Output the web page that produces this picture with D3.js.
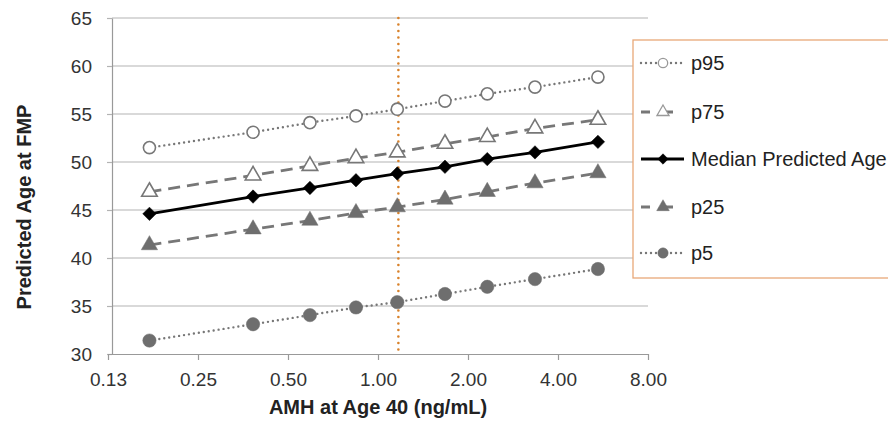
<!DOCTYPE html>
<html>
 <head>
   <meta charset="utf-8">
   <title>Predicted Age at FMP</title>
   <script src="https://cdn.jsdelivr.net/npm/d3@7/dist/d3.min.js"></script>
   <style>
     body { margin:0; background:#fff; }
     svg { font-family: "Liberation Sans", Arial, sans-serif; }
   </style>
 </head>
 <body>
  <script>
    // AMH at age 40 (ng/mL) for each point
    var amh = [0.172, 0.382, 0.592, 0.844, 1.16, 1.675, 2.32, 3.35, 5.44];
    var p95 = [51.5, 53.1, 54.1, 54.8, 55.5, 56.35, 57.1, 57.8, 58.85];
    var p75 = [46.9, 48.6, 49.6, 50.4, 51.0, 51.9, 52.6, 53.5, 54.4];
    var median = [44.6, 46.4, 47.3, 48.1, 48.8, 49.5, 50.3, 51.0, 52.1];
    var p25 = [41.35, 43.0, 43.9, 44.7, 45.3, 46.1, 46.9, 47.8, 48.85];
    var p5 = [31.4, 33.1, 34.05, 34.85, 35.4, 36.25, 37.0, 37.8, 38.85];
    var xTicks = [0.125, 0.25, 0.5, 1, 2, 4, 8];
    var xTickLabels = ["0.13", "0.25", "0.50", "1.00", "2.00", "4.00", "8.00"];
    var yTicks = [30, 35, 40, 45, 50, 55, 60, 65];
    var refAmh = 1.17;

    var width = 888, height = 428;
    var plotL = 108, plotR = 648, plotT = 18, plotB = 354;

    var x = d3.scaleLog().base(2).domain([0.125, 8]).range([plotL, plotR]);
    var y = d3.scaleLinear().domain([30, 65]).range([plotB, plotT]);

    var svg = d3.select("body").append("svg")
                .attr("width", width)
                .attr("height", height);

    // horizontal gridlines
    svg.append("g").selectAll("line")
       .data(yTicks.slice(1))
       .enter().append("line")
       .attr("x1", plotL + 4).attr("x2", plotR)
       .attr("y1", function(d) { return y(d); })
       .attr("y2", function(d) { return y(d); })
       .attr("stroke", "#b3b3b3").attr("stroke-width", 1.2);

    // y axis
    var yAxis = svg.append("g")
       .attr("transform", "translate(" + (plotL + 4) + ",0)")
       .call(d3.axisLeft(y).tickValues(yTicks).tickSize(5).tickSizeOuter(0).tickPadding(15));
    yAxis.select(".domain").attr("stroke", "#999").attr("stroke-width", 1.2);
    yAxis.selectAll(".tick line").attr("stroke", "#b3b3b3").attr("stroke-width", 1.2);
    yAxis.selectAll("text").attr("font-size", 19).attr("fill", "#333");

    // x axis
    var xAxis = svg.append("g")
       .attr("transform", "translate(0," + plotB + ")")
       .call(d3.axisBottom(x).tickValues(xTicks)
             .tickFormat(function(d, i) { return xTickLabels[i]; })
             .tickSize(6).tickSizeOuter(0).tickPadding(13));
    xAxis.select(".domain").attr("stroke", "#999").attr("stroke-width", 1.2);
    xAxis.selectAll(".tick line").attr("stroke", "#999").attr("stroke-width", 1.2);
    xAxis.selectAll("text").attr("font-size", 19).attr("fill", "#333");

    // axis titles
    svg.append("text")
       .attr("x", 378).attr("y", 414)
       .attr("text-anchor", "middle")
       .attr("font-size", 20).attr("font-weight", "bold").attr("fill", "#222")
       .text("AMH at Age 40 (ng/mL)");
    svg.append("text")
       .attr("transform", "translate(31,207) rotate(-90)")
       .attr("text-anchor", "middle")
       .attr("font-size", 20).attr("font-weight", "bold").attr("fill", "#222")
       .text("Predicted Age at FMP");

    // reference line (orange dotted)
    svg.append("line")
       .attr("x1", x(refAmh)).attr("x2", x(refAmh))
       .attr("y1", plotT).attr("y2", plotB)
       .attr("stroke", "#d9822b").attr("stroke-width", 2.6)
       .attr("stroke-dasharray", "0,6.5").attr("stroke-linecap", "round");

    var series = [
      { name: "p95", values: p95, color: "#777", width: 2.4, dash: "0,5", cap: "round", marker: "circle", fill: "#fff" },
      { name: "p75", values: p75, color: "#777", width: 2.8, dash: "12,7", cap: "butt", marker: "triangle", fill: "#fff" },
      { name: "Median Predicted Age", values: median, color: "#000", width: 2.8, dash: null, cap: "butt", marker: "diamond", fill: "#000" },
      { name: "p25", values: p25, color: "#777", width: 2.8, dash: "12,7", cap: "butt", marker: "triangle", fill: "#6e6e6e" },
      { name: "p5", values: p5, color: "#777", width: 2.4, dash: "0,5", cap: "round", marker: "circle", fill: "#6e6e6e" }
    ];

    // diamonds are squares turned 45 degrees, like the spreadsheet marker
    function markerPath(type, filled, scale) {
      scale = scale || 1;
      if (type === "circle") return d3.symbol().type(d3.symbolCircle).size((filled ? 140 : 115) * scale)();
      if (type === "triangle") return d3.symbol().type(d3.symbolTriangle).size((filled ? 115 : 105) * scale)();
      return d3.symbol().type(d3.symbolSquare).size(90 * scale)();
    }

    var line = d3.line()
       .x(function(d, i) { return x(amh[i]); })
       .y(function(d) { return y(d); });

    series.forEach(function(s) {
      var filled = s.fill !== "#fff";
      var rot = s.marker === "diamond" ? " rotate(45)" : "";
      svg.append("path")
         .attr("d", line(s.values))
         .attr("fill", "none")
         .attr("stroke", s.color).attr("stroke-width", s.width)
         .attr("stroke-dasharray", s.dash).attr("stroke-linecap", s.cap);
      svg.append("g").selectAll("path")
         .data(s.values)
         .enter().append("path")
         .attr("transform", function(d, i) { return "translate(" + x(amh[i]) + "," + y(d) + ")" + rot; })
         .attr("d", markerPath(s.marker, filled))
         .attr("fill", s.fill)
         .attr("stroke", s.marker === "diamond" ? "#000" : (filled ? "#6e6e6e" : "#777"))
         .attr("stroke-width", filled ? 0.5 : 1.6);
    });

    // legend
    var lg = svg.append("g");
    lg.append("rect")
      .attr("x", 633).attr("y", 40).attr("width", 270).attr("height", 238)
      .attr("fill", "#fff").attr("stroke", "#e8a878").attr("stroke-width", 1.3);
    var rowY = [63, 112, 159, 207, 253];
    series.forEach(function(s, i) {
      var g = lg.append("g").attr("transform", "translate(0," + rowY[i] + ")");
      var filled = s.fill !== "#fff";
      g.append("line")
       .attr("x1", 641).attr("x2", 684).attr("y1", 0).attr("y2", 0)
       .attr("stroke", s.color).attr("stroke-width", s.width)
       .attr("stroke-dasharray", s.dash ? (s.cap === "round" ? "0,5" : "9,14") : null)
       .attr("stroke-linecap", s.cap);
      g.append("path")
       .attr("transform", "translate(663,0)" + (s.marker === "diamond" ? " rotate(45)" : ""))
       .attr("d", markerPath(s.marker, filled, 0.6))
       .attr("fill", s.fill)
       .attr("stroke", s.marker === "diamond" ? "#000" : (filled ? "#6e6e6e" : "#999"))
       .attr("stroke-width", filled ? 0.5 : 1.3);
      g.append("text")
       .attr("x", 691).attr("y", 7)
       .attr("font-size", 20).attr("fill", "#222")
       .text(s.name);
    });
  </script>
 </body>
</html>
